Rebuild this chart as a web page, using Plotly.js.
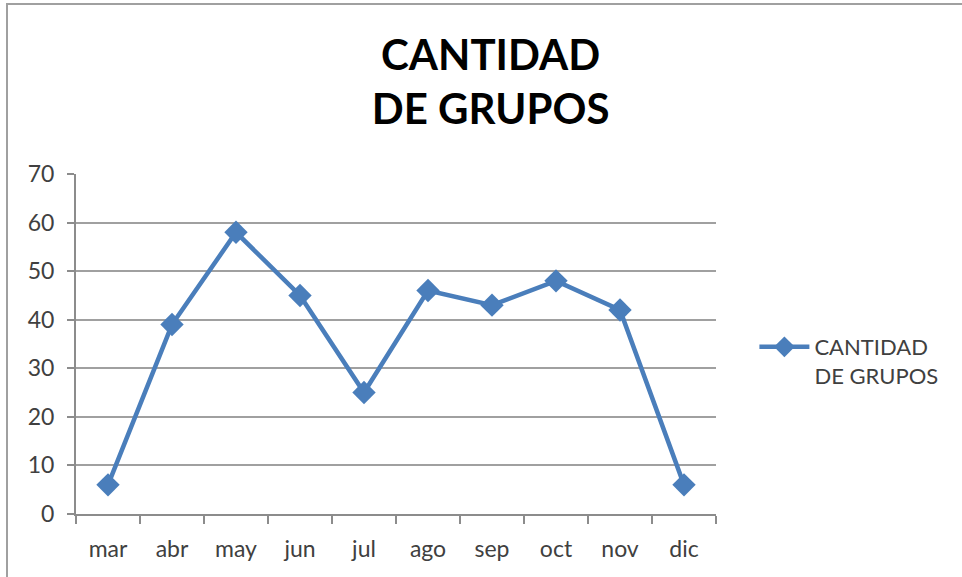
<!DOCTYPE html>
<html>
<head>
<meta charset="utf-8">
<script src="https://cdn.plot.ly/plotly-3.0.1.min.js"></script>
<style>
body{margin:0;padding:0;background:#fff;}
#wrap{position:relative;width:962px;height:577px;overflow:hidden;}
#chart{position:absolute;left:0;top:0;width:962px;height:577px;}
#bt{position:absolute;left:6px;top:3px;width:956px;height:2px;background:#a0a0a0;}
#bl{position:absolute;left:6px;top:3px;width:2px;height:574px;background:#a0a0a0;}
</style>
</head>
<body>
<div id="wrap">
<div id="chart"></div>
<div id="bt"></div>
<div id="bl"></div>
</div>
<script>
const months = ["mar","abr","may","jun","jul","ago","sep","oct","nov","dic"];
const cantidad = [6, 39, 58, 45, 25, 46, 43, 48, 42, 6];
const yTicks = [0,10,20,30,40,50,60,70];
const seriesName = "CANTIDAD<br>DE GRUPOS";
const titleText = "<b>CANTIDAD<br>DE GRUPOS</b>";

const trace = {
  x: months,
  y: cantidad,
  type: "scatter",
  mode: "lines+markers",
  name: seriesName,
  line: {color: "#4a7ebb", width: 4.5},
  marker: {symbol: "diamond", size: 18, color: "#4a7ebb"}
};

const layout = {
  width: 962, height: 577,
  margin: {l: 76, r: 246, t: 174, b: 63},
  paper_bgcolor: "#ffffff",
  plot_bgcolor: "#ffffff",
  font: {family: "Lato, 'Open Sans', sans-serif", color: "#404040", size: 22},
  title: {
    text: titleText,
    font: {family: "Lato, sans-serif", size: 42, color: "#000000"},
    x: 0.51, xanchor: "center",
    y: 0.879, yanchor: "middle"
  },
  xaxis: {
    type: "category",
    tickson: "boundaries",
    ticks: "outside",
    ticklen: 8,
    tickcolor: "#8c8c8c",
    tickwidth: 2,
    showline: true,
    linecolor: "#8c8c8c",
    linewidth: 2,
    showgrid: false,
    tickfont: {size: 23, color: "#404040"},
    ticklabelstandoff: 13,
    range: [-0.5, 9.5]
  },
  yaxis: {
    range: [0, 70],
    tickvals: yTicks,
    ticks: "outside",
    ticklen: 7,
    tickcolor: "#8c8c8c",
    tickwidth: 2,
    showline: true,
    linecolor: "#8c8c8c",
    linewidth: 2,
    showgrid: true,
    gridcolor: "#a0a0a0",
    gridwidth: 2,
    zeroline: false,
    tickfont: {size: 23, color: "#404040"},
    ticklabelstandoff: 8
  },
  showlegend: true,
  legend: {
    x: 1.06, xanchor: "left",
    y: 0.553, yanchor: "top",
    valign: "top",
    font: {size: 22, color: "#404040"},
    bgcolor: "rgba(0,0,0,0)",
    itemwidth: 50
  }
};

Plotly.newPlot("chart", [trace], layout, {displayModeBar: false, staticPlot: true});
</script>
</body>
</html>
